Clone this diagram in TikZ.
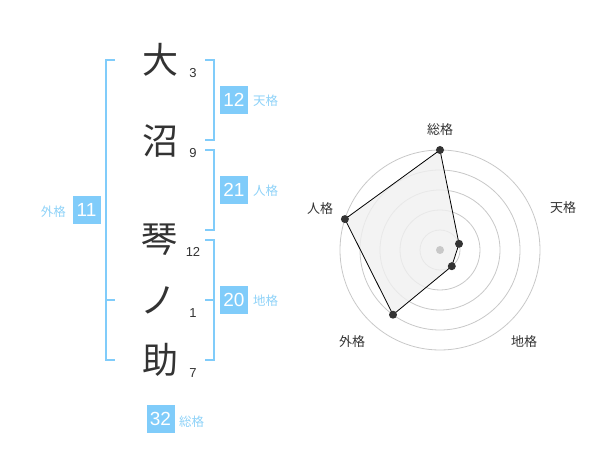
\documentclass[tikz,border=0pt]{standalone}
\usepackage{fontspec}
\setmainfont{Liberation Sans}
\newfontfamily\jp{Noto Sans CJK JP}
\definecolor{sky}{HTML}{80CCFA}
\definecolor{skytext}{HTML}{8ED2F8}
\definecolor{ink}{HTML}{333333}
\definecolor{ring}{HTML}{C8C8C8}
\tikzset{
  kanji/.style={inner sep=0pt, text=ink, font=\jp\fontsize{36}{36}\selectfont},
  strokes/.style={inner sep=0pt, text=ink, font=\fontsize{13}{13}\selectfont},
  numbox/.style={fill=sky, text=white, minimum size=28pt, inner sep=0pt, font=\fontsize{19}{19}\selectfont},
  kaku/.style={inner sep=0pt, text=skytext, font=\jp\fontsize{12.5}{12.5}\selectfont},
  axis/.style={inner sep=0pt, text=ink, font=\jp\fontsize{13}{13}\selectfont},
  bracket/.style={draw=sky, line width=2pt},
  dot/.style={fill=ink}
}

\begin{document}
\begin{tikzpicture}[x=1pt,y=-1pt]
\useasboundingbox (0,0) rectangle (600,470);
\node[kanji] (k1) at (160,60) {大};
\node[kanji] (k2) at (160,141) {沼};
\node[kanji] (k3) at (159,240) {琴};
\node[kanji] (k4) at (158,300) {ノ};
\node[kanji] (k5) at (160,360) {助};
\node[strokes] (s1) at (193,73) {3};
\node[strokes] (s2) at (193,153) {9};
\node[strokes] (s3) at (193,252) {12};
\node[strokes] (s4) at (193,313) {1};
\node[strokes] (s5) at (193,373) {7};

\draw[bracket] (115,60) -- (106,60) -- (106,360) -- (115,360);
\draw[bracket] (106,300) -- (115,300);
\draw[bracket] (205,60) -- (214,60) -- (214,140) -- (205,140);
\draw[bracket] (205,150) -- (214,150) -- (214,230) -- (205,230);
\draw[bracket] (205,240) -- (214,240) -- (214,360) -- (205,360);
\draw[bracket] (205,300) -- (214,300);

\node[numbox] (ten) at (234,100) {12};
\node[kaku, anchor=west] (tenl) at (253,101) {天格};
\node[numbox] (jin) at (234,190) {21};
\node[kaku, anchor=west] (jinl) at (253,191) {人格};
\node[numbox] (chi) at (234,300) {20};
\node[kaku, anchor=west] (chil) at (253,301) {地格};
\node[numbox] (gai) at (86.5,210) {11};
\node[kaku, anchor=east] (gail) at (66,212) {外格};
\node[numbox] (sou) at (160.5,419) {32};
\node[kaku, anchor=west] (soul) at (179,422) {総格};

\coordinate (c) at (440,250);
\draw[ring, line width=.8pt] (c) circle (20);
\draw[ring, line width=.8pt] (c) circle (40);
\draw[ring, line width=.8pt] (c) circle (60);
\draw[ring, line width=.8pt] (c) circle (80);
\draw[ring, line width=.8pt] (c) circle (100);
\coordinate (p1) at (440,150);
\coordinate (p2) at (459,243.8);
\coordinate (p3) at (451.8,266.2);
\coordinate (p4) at (393,314.7);
\coordinate (p5) at (344.9,219.1);
\filldraw[fill=black!6, draw=black, line width=.8pt, fill opacity=.8] (p1) -- (p2) -- (p3) -- (p4) -- (p5) -- cycle;
\fill[ring] (c) circle (4);
\fill[dot] (p1) circle (4);
\fill[dot] (p2) circle (4);
\fill[dot] (p3) circle (4);
\fill[dot] (p4) circle (4);
\fill[dot] (p5) circle (4);
\node[axis] (a1) at (440,130) {総格};
\node[axis] (a2) at (563,208) {天格};
\node[axis] (a3) at (320,209) {人格};
\node[axis] (a4) at (352,342) {外格};
\node[axis] (a5) at (524,342) {地格};
\end{tikzpicture}
\end{document}
